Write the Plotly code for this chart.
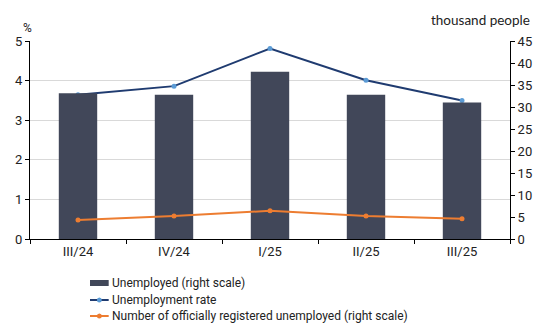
import plotly.graph_objects as go

quarters = ["III/24", "IV/24", "I/25", "II/25", "III/25"]
unemployed_thousands = [33.1, 32.8, 38.0, 32.8, 31.0]
unemployment_rate = [3.64, 3.86, 4.81, 4.01, 3.50]
registered_thousands = [4.3, 5.2, 6.4, 5.2, 4.6]

series_names = [
    "Unemployed (right scale)",
    "Unemployment rate",
    "Number of officially registered unemployed (right scale)",
]

bar_color = "#414759"
rate_color = "#1f3b70"
rate_marker = "#5b9bd5"
reg_color = "#ed7d31"

W, H = 544, 325
M_L, M_R, M_T, M_B = 30, 26, 41, 86
plot_w = W - M_L - M_R
plot_h = H - M_T - M_B


def px_x(p):
    return (p - M_L) / plot_w


def px_y(p):
    return (H - M_B - p) / plot_h


fig = go.Figure()
fig.add_trace(go.Bar(
    x=quarters, y=unemployed_thousands, name=series_names[0],
    marker=dict(color=bar_color, line=dict(width=0)), width=0.4, yaxis="y2",
))
fig.add_trace(go.Scatter(
    x=quarters, y=unemployment_rate, name=series_names[1], mode="lines+markers",
    line=dict(color=rate_color, width=2), marker=dict(color=rate_marker, size=5),
))
fig.add_trace(go.Scatter(
    x=quarters, y=registered_thousands, name=series_names[2],
    mode="lines+markers", line=dict(color=reg_color, width=2),
    marker=dict(color=reg_color, size=5), yaxis="y2",
))

tick_font = dict(family="Roboto, Arial, sans-serif", size=13, color="#222222")
legend_font = dict(family="Roboto, Arial, sans-serif", size=12, color="#222222")

# Legend drawn below the plot as shapes + text rows
shapes = []
annotations = []
key_x0, key_x1, text_x = 91, 110, 111
rows_y = [283, 300, 316]
shapes.append(dict(type="rect", xref="paper", yref="paper",
                   x0=px_x(key_x0), x1=px_x(key_x1),
                   y0=px_y(rows_y[0] + 3), y1=px_y(rows_y[0] - 3),
                   fillcolor=bar_color, line=dict(width=0)))
for row, color, mcolor in [(1, rate_color, rate_marker), (2, reg_color, reg_color)]:
    yy = px_y(rows_y[row])
    shapes.append(dict(type="line", xref="paper", yref="paper",
                       x0=px_x(key_x0), x1=px_x(key_x1), y0=yy, y1=yy,
                       line=dict(color=color, width=2)))
    shapes.append(dict(type="circle", xref="paper", yref="paper",
                       x0=px_x(98), x1=px_x(103),
                       y0=px_y(rows_y[row] + 2.5), y1=px_y(rows_y[row] - 2.5),
                       fillcolor=mcolor, line=dict(width=0)))
for name, yy in zip(series_names, rows_y):
    annotations.append(dict(text=name, x=px_x(text_x), xref="paper", xanchor="left",
                            y=px_y(yy), yref="paper", yanchor="middle",
                            showarrow=False, font=legend_font))

annotations.append(dict(text="%", x=0, xref="paper", xanchor="right", xshift=4,
                        y=1, yref="paper", yanchor="bottom", yshift=4, showarrow=False,
                        font=dict(family="Roboto, Arial, sans-serif", size=12, color="#222222")))
annotations.append(dict(text="thousand people", x=1, xref="paper", xanchor="right", xshift=22,
                        y=1, yref="paper", yanchor="bottom", yshift=11, showarrow=False,
                        font=dict(family="Lato, sans-serif", size=13.5, color="#222222")))

fig.update_layout(
    width=W, height=H,
    margin=dict(l=M_L, r=M_R, t=M_T, b=M_B),
    paper_bgcolor="white", plot_bgcolor="white",
    showlegend=False,
    xaxis=dict(
        showline=True, linecolor="black", linewidth=1,
        ticks="outside", ticklen=4, tickcolor="black", tickson="boundaries",
        tickfont=tick_font, showgrid=False,
    ),
    yaxis=dict(
        range=[0, 5], dtick=1, showline=True, linecolor="black", linewidth=1,
        ticks="outside", ticklen=4, tickcolor="black", tickfont=tick_font,
        showgrid=True, gridcolor="#d9d9d9", gridwidth=1, zeroline=False,
    ),
    yaxis2=dict(
        range=[0, 45], dtick=5, overlaying="y", side="right",
        showline=True, linecolor="black", linewidth=1,
        ticks="outside", ticklen=4, tickcolor="black", tickfont=tick_font,
        showgrid=False, zeroline=False,
    ),
    shapes=shapes,
    annotations=annotations,
    bargap=0.6,
)

fig.write_html("out.html")
